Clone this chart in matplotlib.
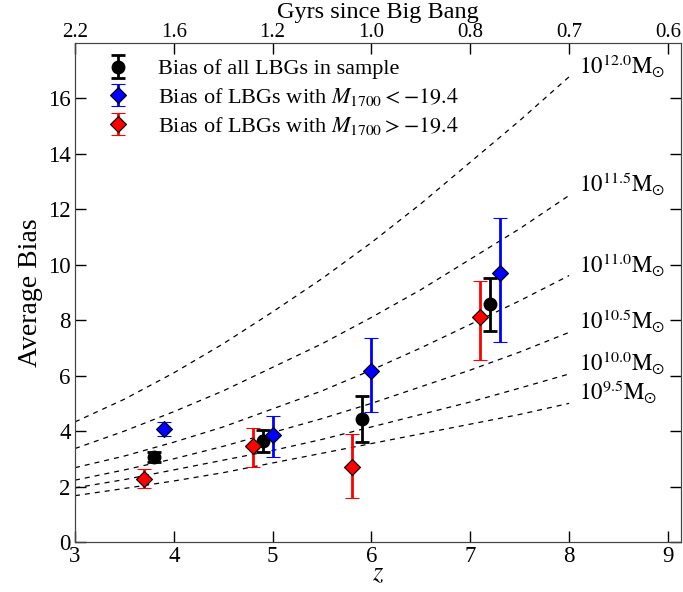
import numpy as np
import matplotlib.pyplot as plt

plt.rcParams['font.family'] = ['Liberation Serif', 'DejaVu Serif']
plt.rcParams['mathtext.fontset'] = 'stix'

# halo mass bias tracks
z_grid = [3.0, 3.5, 4.0, 4.5, 5.0, 5.5, 6.0, 6.5, 7.0, 7.5, 8.0]
mass_labels = ['12.0', '11.5', '11.0', '10.5', '10.0', '9.5']
mass_bias = [
    [4.33, 5.15, 6.1, 7.15, 8.3, 9.5, 10.8, 12.2, 13.7, 15.2, 16.78],
    [3.37, 4.0, 4.7, 5.45, 6.3, 7.15, 8.1, 9.1, 10.2, 11.3, 12.5],
    [2.68, 3.1, 3.6, 4.15, 4.8, 5.45, 6.2, 7.0, 7.85, 8.7, 9.61],
    [2.23, 2.6, 3.0, 3.45, 3.95, 4.45, 5.0, 5.6, 6.2, 6.85, 7.56],
    [1.95, 2.25, 2.6, 2.95, 3.3, 3.7, 4.15, 4.6, 5.05, 5.55, 6.06],
    [1.67, 1.93, 2.2, 2.5, 2.85, 3.2, 3.55, 3.9, 4.25, 4.6, 5.0],
]

# all LBGs
z_all = [3.8, 4.9, 5.9, 7.2]
b_all = [3.05, 3.65, 4.45, 8.6]
lo_all = [0.18, 0.40, 0.85, 0.98]
hi_all = [0.18, 0.38, 0.80, 0.92]

# bright LBGs (M1700 < -19.4)
z_br = [3.9, 5.0, 6.0, 7.3]
b_br = [4.08, 3.85, 6.15, 9.7]
lo_br = [0.25, 0.80, 1.45, 2.48]
hi_br = [0.25, 0.70, 1.22, 2.0]

# faint LBGs (M1700 > -19.4)
z_ft = [3.7, 4.8, 5.8, 7.1]
b_ft = [2.28, 3.45, 2.72, 8.1]
lo_ft = [0.35, 0.75, 1.15, 1.52]
hi_ft = [0.35, 0.65, 1.18, 1.30]

z_ticks = [3, 4, 5, 6, 7, 8, 9]
gyr_labels = ['2.2', '1.6', '1.2', '1.0', '0.8', '0.7', '0.6']

fig = plt.figure(figsize=(6.83, 5.92), dpi=100)
ax = fig.add_axes([0.1098, 0.0845, 0.887, 0.843])

for lab, b in zip(mass_labels, mass_bias):
    ax.plot(z_grid, b, color='black', lw=0.9, dashes=(4, 4))
    ax.text(z_grid[-1] + 0.1, b[-1] + 0.4, r'$10^{%s}\mathrm{M}_{\odot}$' % lab,
            fontsize=16.5, va='center', ha='left')

ax.errorbar(z_all, b_all, yerr=[lo_all, hi_all], fmt='o', color='black',
            ms=9, capsize=5, elinewidth=2, capthick=2,
            label='Bias of all LBGs in sample', zorder=5)
ax.errorbar(z_br, b_br, yerr=[lo_br, hi_br], fmt='D', color='blue', mfc='blue',
            mec='black', mew=0.8, ms=8, capsize=5, elinewidth=2, capthick=2,
            label=r'Bias of LBGs with $M_{1700} < -19.4$', zorder=5)
ax.errorbar(z_ft, b_ft, yerr=[lo_ft, hi_ft], fmt='D', color='red', mfc='red',
            mec='black', mew=0.8, ms=8, capsize=5, elinewidth=2, capthick=2,
            label=r'Bias of LBGs with $M_{1700} > -19.4$', zorder=5)

ax.set_xlim(3, 9.13)
ax.set_ylim(0, 18)
ax.set_xticks(z_ticks)
ax.set_yticks(range(0, 18, 2))
ax.tick_params(direction='in', length=8, width=1, labelsize=16.5, right=True, pad=3)
ax.set_xlabel(r'$z$', fontsize=19, labelpad=-3)
ax.set_ylabel('Average Bias', fontsize=20)

top = ax.twiny()
top.set_xlim(ax.get_xlim())
top.set_xticks(z_ticks)
top.set_xticklabels(gyr_labels)
top.tick_params(direction='in', length=8, width=1, labelsize=15, pad=1)
top.set_xlabel('Gyrs since Big Bang', fontsize=17.5, labelpad=3)

for a in (ax, top):
    for s in a.spines.values():
        s.set_color('#444444')

ax.legend(loc='upper left', bbox_to_anchor=(0.038, 0.986), borderaxespad=0,
          frameon=False, fontsize=16, handlelength=1.0, handletextpad=1.3,
          labelspacing=0.3)

fig.savefig('out.png', dpi=100)
